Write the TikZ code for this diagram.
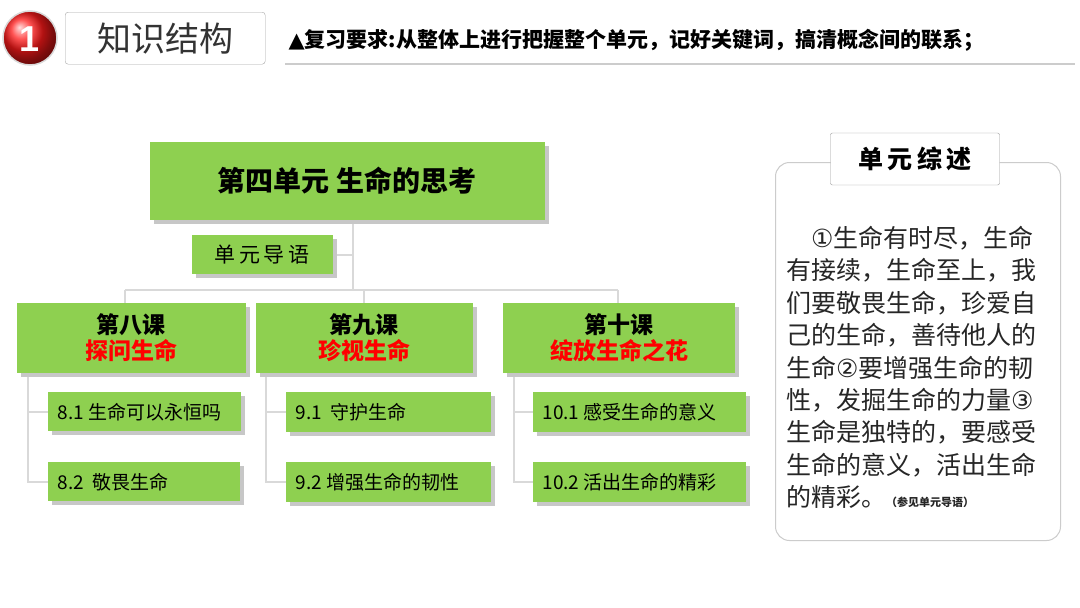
\documentclass[tikz,border=0pt]{standalone}
\usepackage{fontspec}
\setmainfont{Noto Sans CJK SC}
\newfontfamily\sym{DejaVu Sans}
\newfontfamily\lsans{Liberation Sans}
\begin{document}
\begin{tikzpicture}[x=1pt,y=-1pt,
 conn/.style={draw=black!15,line width=1.2pt},
 txt/.style={font=\fontsize{#1}{#1}\selectfont\bfseries},
 stxt/.style={font=\fontsize{#1}{#1}\selectfont}]
\definecolor{g}{HTML}{8ED050}
\useasboundingbox (0,0) rectangle (1080,608);
\fill[white] (0,0) rectangle (1080,608);
% header
\shade[ball color=red!90] (30,38) circle (27);
\draw[black!15,line width=1.5pt] (30,38) circle (27);
\node[white,font=\fontsize{36}{36}\selectfont\lsans\bfseries] (num) at (30,39) {1};
\node[draw=black!35,rounded corners=3pt,minimum width=200,minimum height=52,anchor=north west,inner sep=0] (kh) at (65,12) {};
\node[font=\fontsize{34}{34}\selectfont,text=black!80] (kht) at (kh) {知识结构};
\node[anchor=west,font=\fontsize{21}{21}\selectfont\bfseries] (req) at (285,40) {{\sym ▲}复习要求:从整体上进行把握整个单元，记好关键词，搞清概念间的联系；};
\coordinate (l1) at (285,64); \coordinate (l2) at (1075,64);
\draw[black!20,line width=1.5pt] (l1) -- (l2);
% connectors
\coordinate (v0) at (353,220); \coordinate (v1) at (353,290);
\coordinate (h0) at (125,290); \coordinate (h1) at (618,290);
\coordinate (h2) at (364,290);
\draw[conn] (v0) -- (v1); \draw[conn] (h0) -- (h1);
\draw[conn] (h0) -- (125,303); \draw[conn] (h2) -- (364,303); \draw[conn] (h1) -- (618,303);
\draw[conn] (333,255) -- (353,255);
\foreach \x/\a in {28/48,266/286,514/533}{
 \draw[conn] (\x,373) -- (\x,482) -- (\a,482);
 \draw[conn] (\x,412) -- (\a,412);}
% boxes with shadows
\foreach \a/\b/\c/\d in {150/142/545/220, 192/235/333/274, 17/303/246/373, 256/303/473/373, 503/303/735/373, 48/392/241/431, 48/462/240/501, 286/392/491/432, 286/462/491/502, 533/392/746/432, 533/462/746/502}{
 \fill[black!22] (\a+4,\b+4) rectangle (\c+4,\d+4);
 \fill[g] (\a,\b) rectangle (\c,\d);}
\node[txt=28] (main) at (347,181) {第四单元\hspace{8pt}生命的思考};
\node[stxt=21] (dy) at (262,255) {单\,元\,导\,语};
\node[txt=23,align=center] (k8) at (131,338) {第八课\\[3pt]\textcolor{red}{探问生命}};
\node[txt=23,align=center] (k9) at (364,338) {第九课\\[3pt]\textcolor{red}{珍视生命}};
\node[txt=23,align=center] (k10) at (619,338) {第十课\\[3pt]\textcolor{red}{绽放生命之花}};
\node[stxt=19,anchor=west] (s81) at (54,412) {8.1 生命可以永恒吗};
\node[stxt=19,anchor=west] (s82) at (54,482) {8.2\ \ 敬畏生命};
\node[stxt=19,anchor=west] (s91) at (292,412) {9.1\ \ 守护生命};
\node[stxt=19,anchor=west] (s92) at (292,482) {9.2 增强生命的韧性};
\node[stxt=19,anchor=west] (s101) at (539,412) {10.1 感受生命的意义};
\node[stxt=19,anchor=west] (s102) at (539,482) {10.2 活出生命的精彩};
% right panel
\node[draw=black!20,line width=1pt,rounded corners=14pt,minimum width=285,minimum height=378,anchor=north west,inner sep=0] (panel) at (775,162) {};
\node[draw=black!40,fill=white,rounded corners=2pt,minimum width=169,minimum height=52,inner sep=0,font=\fontsize{25}{25}\selectfont\bfseries] (ttl) at (915,159) {单\,元\,综\,述};
\node[anchor=north west,align=left,font=\fontsize{25}{32.4}\selectfont,text=black!85,inner sep=0] (body) at (786,226)
{\hspace{25pt}{\sym ①}生命有时尽，生命\\有接续，生命至上，我\\们要敬畏生命，珍爱自\\己的生命，善待他人的\\生命{\sym ②}要增强生命的韧\\性，发掘生命的力量{\sym ③}\\生命是独特的，要感受\\生命的意义，活出生命\\的精彩。{\fontsize{11}{11}\selectfont\bfseries（参见单元导语）}};
\end{tikzpicture}
\end{document}
